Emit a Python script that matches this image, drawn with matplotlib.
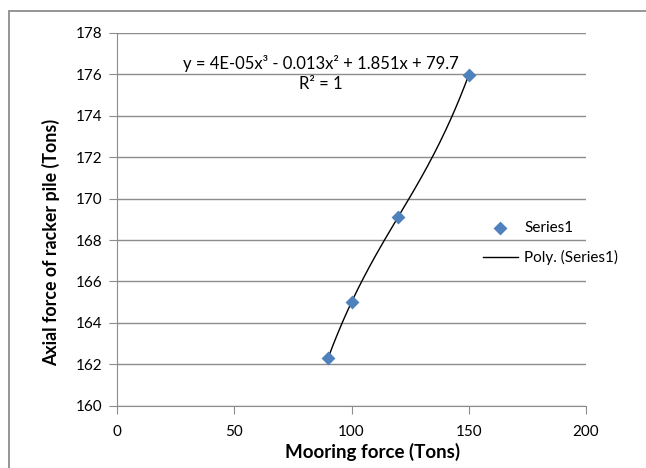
import numpy as np
import matplotlib
matplotlib.use("Agg")
import matplotlib.pyplot as plt
from matplotlib.patches import Rectangle

plt.rcParams['font.family'] = ['Lato', 'DejaVu Sans']

mooring = [90, 100, 120, 150]
axial = [162.3, 165.0, 169.13, 175.95]
x_ticks = [0, 50, 100, 150, 200]
y_ticks = [160, 162, 164, 166, 168, 170, 172, 174, 176, 178]

W, H = 646, 468
fig = plt.figure(figsize=(W/100, H/100), dpi=100)
ax = fig.add_axes([117.3/W, 1-405.7/H, (585.7-117.3)/W, (405.7-33)/H])

fig.patches.append(Rectangle((8.5/W, -0.2), 1.2, 1.2 - 10.5/H,
                             transform=fig.transFigure, fill=False,
                             edgecolor='#8c8c8c', linewidth=1.3))

coef = np.polyfit(mooring, axial, 3)
xs = np.linspace(min(mooring), max(mooring), 200)
ax.scatter(mooring, axial, marker='D', s=50, color='#4F81BD', zorder=3,
           linewidths=0, label='Series1')
ax.plot(xs, np.polyval(coef, xs), color='black', linewidth=1.0, zorder=2,
        label='Poly. (Series1)')

ax.set_xlim(0, 200)
ax.set_ylim(160, 178)
ax.set_xticks(x_ticks)
ax.set_yticks(y_ticks)
ax.yaxis.grid(True, color='#8c8c8c', linewidth=1.0)
ax.set_axisbelow(True)
for s in ['top', 'right']:
    ax.spines[s].set_visible(False)
for s in ['left', 'bottom']:
    ax.spines[s].set_color('#8c8c8c')
ax.tick_params(axis='both', colors='#8c8c8c', labelcolor='black', labelsize=11,
               length=6, direction='out')
ax.tick_params(axis='x', pad=8)
ax.tick_params(axis='y', pad=5)

fig.text(373/W, 1-452/H, 'Mooring force (Tons)', fontsize=13.5, fontweight='bold',
         ha='center', va='center')
fig.text(51/W, 1-242/H, 'Axial force of racker pile (Tons)', fontsize=12.8,
         fontweight='bold', ha='center', va='center', rotation=90)

fig.text(321/W, 1-63/H, 'y = 4E-05x³ - 0.013x² + 1.851x + 79.7', ha='center',
         va='center', fontsize=12)
fig.text(321/W, 1-84/H, 'R² = 1', ha='center', va='center', fontsize=12)

leg = fig.legend(loc='center left', bbox_to_anchor=(469/W, 1-243/H), frameon=False,
                 fontsize=11, handlelength=2.3, labelspacing=1.0, handletextpad=0.4)

fig.savefig('out.png', dpi=100)
